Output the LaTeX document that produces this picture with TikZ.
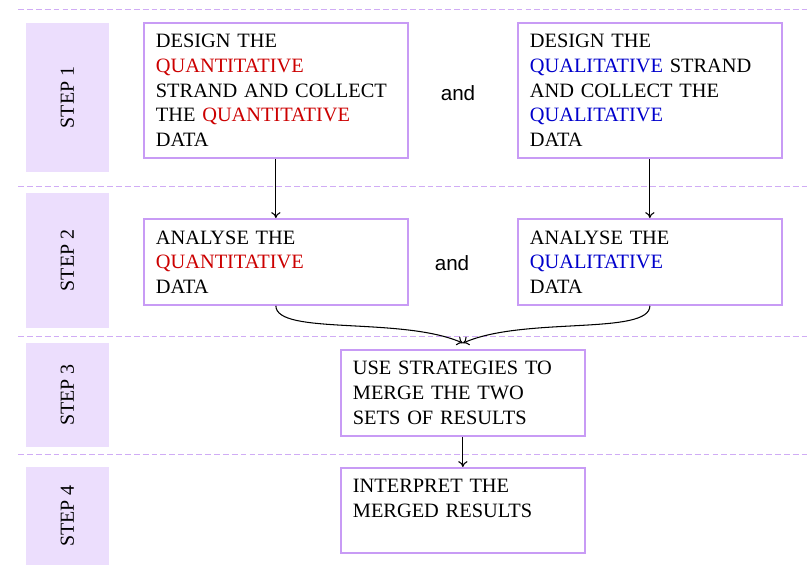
\documentclass[tikz,border=0pt]{standalone}
\usepackage{fontspec}
\setmainfont{Liberation Serif}
\newfontfamily\andfont{Liberation Sans}
\usetikzlibrary{arrows.meta}

\definecolor{boxline}{RGB}{200,155,245}
\definecolor{stepfill}{RGB}{236,222,253}
\definecolor{dashline}{RGB}{208,172,245}
\definecolor{quancol}{RGB}{204,0,0}
\definecolor{qualcol}{RGB}{0,0,204}

\newcommand{\quantword}{\textcolor{quancol}{QUANTITATIVE}}
\newcommand{\qualword}{\textcolor{qualcol}{QUALITATIVE}}

\begin{document}
\begin{tikzpicture}[x=0.03cm, y=0.03cm,
    stepbar/.style={fill=stepfill, rotate=90, minimum height=2.49cm, inner sep=0pt,
        font=\fontsize{17}{20}\selectfont},
    taskbox/.style={draw=boxline, line width=1.5pt, fill=white, anchor=north west,
        align=left, inner xsep=0.36cm, font=\fontsize{17.4}{21}\selectfont},
    flow/.style={-{To[length=5pt, width=8pt]}, line width=0.9pt}]
    \useasboundingbox (0,0) rectangle (809,574);

    % step separators
    \foreach \y in {565,388,238,120}
        \draw[dashline, line width=0.8pt, dash pattern=on 5pt off 2.6pt] (18,\y) -- (809,\y);

    % step bars
    \foreach \n/\y/\h in {1/476.5/4.47, 2/313.5/4.05, 3/179/3.12, 4/58/2.94}
        \node[stepbar, minimum width=\h cm] (step\n) at (67.5,\y) {STEP \n};

    % step 1
    \node[taskbox, text width=7.2cm, minimum width=7.92cm, minimum height=4.05cm] (quan1) at (143,552)
        {DESIGN THE\\ \quantword\\ STRAND AND COLLECT\\ THE \quantword\\ DATA};
    \node[taskbox, text width=7.2cm, minimum width=7.89cm, minimum height=4.05cm] (qual1) at (517,552)
        {DESIGN THE\\ \qualword{} STRAND\\ AND COLLECT THE\\ \qualword\\ DATA};
    \node[font=\andfont\fontsize{17.6}{21}\selectfont] (and1) at (458,481) {and};

    % step 2
    \node[taskbox, text width=7.2cm, minimum width=7.92cm, minimum height=2.58cm] (quan2) at (143,356)
        {ANALYSE THE\\ \quantword\\ DATA};
    \node[taskbox, text width=7.2cm, minimum width=7.89cm, minimum height=2.58cm] (qual2) at (517,356)
        {ANALYSE THE\\ \qualword\\ DATA};
    \node[font=\andfont\fontsize{17.6}{21}\selectfont] (and2) at (452,311) {and};

    % steps 3 and 4
    \node[taskbox, text width=6.6cm, minimum width=7.32cm, minimum height=2.58cm] (merge) at (340,225)
        {USE STRATEGIES TO\\ MERGE THE TWO\\ SETS OF RESULTS};
    \node[taskbox, text width=6.6cm, minimum width=7.32cm, minimum height=2.55cm] (interp) at (340,107)
        {INTERPRET THE\\ MERGED RESULTS\\ ~};

    % connectors
    \coordinate (join) at ([yshift=5pt]merge.north);
    \draw[flow] (quan1) -- (quan2);
    \draw[flow] (qual1) -- (qual2);
    \draw[flow] (quan2.south) .. controls +(0,-30) and +(-60,27) .. (join);
    \draw[flow] (qual2.south) .. controls +(0,-30) and +(60,27) .. (join);
    \draw[flow] (merge) -- (interp);
\end{tikzpicture}
\end{document}
